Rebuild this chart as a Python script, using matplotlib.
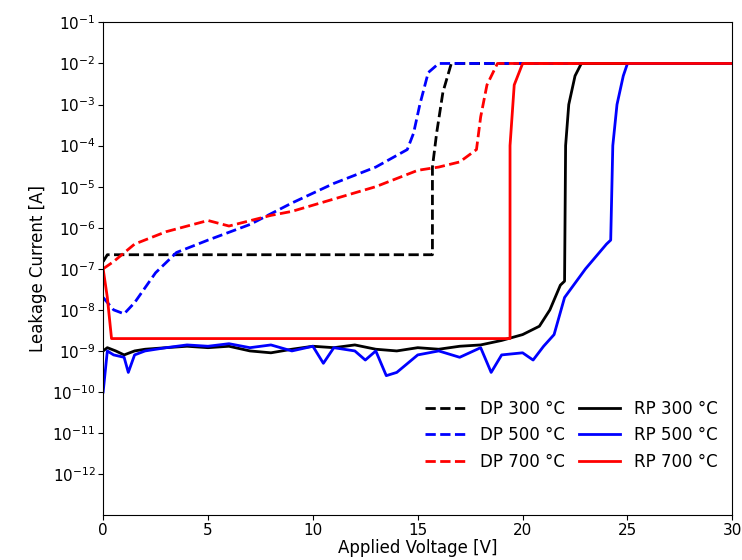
import matplotlib
matplotlib.use("Agg")
import matplotlib.pyplot as plt

dp300_v = [0, 0.2, 15.7, 15.7, 15.9, 16.2, 16.6, 30]
dp300_i = [1.5e-7, 2.2e-7, 2.2e-7, 3e-5, 2e-4, 2e-3, 1e-2, 1e-2]
dp500_v = [0, 0.5, 1, 1.5, 2.5, 3.5, 5, 7, 9, 11, 13, 14.5, 14.8, 15.1, 15.5, 16, 30]
dp500_i = [2e-8, 1e-8, 8e-9, 1.5e-8, 8e-8, 2.5e-7, 5e-7, 1.2e-6, 4e-6, 1.2e-5, 3e-5, 8e-5, 2e-4, 1e-3, 6e-3, 1e-2, 1e-2]
dp700_v = [0, 0.5, 1.5, 3, 5, 6, 8, 9, 11, 13, 15, 16, 17, 17.8, 18, 18.3, 18.8, 30]
dp700_i = [1e-7, 1.5e-7, 4e-7, 8e-7, 1.5e-6, 1.1e-6, 2e-6, 2.5e-6, 5e-6, 1e-5, 2.5e-5, 3e-5, 4e-5, 8e-5, 5e-4, 3e-3, 1e-2, 1e-2]
rp300_v = [0, 0.2, 0.6, 1, 1.5, 2, 3, 4, 5, 6, 7, 8, 9, 10, 11, 12, 13, 14, 15, 16, 17, 18, 19, 20, 20.8, 21.3, 21.8, 22, 22.05, 22.2, 22.5, 22.8, 30]
rp300_i = [1e-9, 1.2e-9, 1e-9, 8e-10, 1e-9, 1.1e-9, 1.2e-9, 1.3e-9, 1.2e-9, 1.3e-9, 1e-9, 9e-10, 1.1e-9, 1.3e-9, 1.2e-9, 1.4e-9, 1.1e-9, 1e-9, 1.2e-9, 1.1e-9, 1.3e-9, 1.4e-9, 1.8e-9, 2.5e-9, 4e-9, 1e-8, 4e-8, 5e-8, 1e-4, 1e-3, 5e-3, 1e-2, 1e-2]
rp500_v = [0, 0.2, 0.5, 1, 1.2, 1.5, 2, 3, 4, 5, 6, 7, 8, 9, 10, 10.5, 11, 12, 12.5, 13, 13.5, 14, 15, 16, 17, 18, 18.5, 19, 20, 20.5, 21, 21.5, 22, 23, 24, 24.2, 24.3, 24.5, 24.8, 25, 30]
rp500_i = [1e-10, 1e-9, 8e-10, 7e-10, 3e-10, 8e-10, 1e-9, 1.2e-9, 1.4e-9, 1.3e-9, 1.5e-9, 1.2e-9, 1.4e-9, 1e-9, 1.3e-9, 5e-10, 1.2e-9, 1e-9, 6e-10, 1e-9, 2.5e-10, 3e-10, 8e-10, 1e-9, 7e-10, 1.2e-9, 3e-10, 8e-10, 9e-10, 6e-10, 1.3e-9, 2.5e-9, 2e-8, 1e-7, 4e-7, 5e-7, 1e-4, 1e-3, 5e-3, 1e-2, 1e-2]
rp700_v = [0, 0.2, 0.4, 1, 5, 10, 15, 19.4, 19.4, 19.6, 20, 30]
rp700_i = [1e-7, 2e-8, 2e-9, 2e-9, 2e-9, 2e-9, 2e-9, 2e-9, 1e-4, 3e-3, 1e-2, 1e-2]

fig, ax = plt.subplots(figsize=(7.42, 5.6), dpi=100)
fig.subplots_adjust(left=0.139, right=0.987, top=0.96, bottom=0.08)
lw = 2
ax.plot(dp300_v, dp300_i, 'k--', lw=lw, label='DP 300 °C')
ax.plot(dp500_v, dp500_i, '--', color='#0000ff', lw=lw, label='DP 500 °C')
ax.plot(dp700_v, dp700_i, '--', color='#ff0000', lw=lw, label='DP 700 °C')
ax.plot(rp300_v, rp300_i, 'k-', lw=lw, label='RP 300 °C')
ax.plot(rp500_v, rp500_i, '-', color='#0000ff', lw=lw, label='RP 500 °C')
ax.plot(rp700_v, rp700_i, '-', color='#ff0000', lw=lw, label='RP 700 °C')
ax.set_yscale('log')
ax.set_xlim(0, 30)
ax.set_ylim(1e-13, 1e-1)
ax.set_xticks(range(0, 31, 5))
ax.set_yticks([10.0**k for k in range(-12, 0)])
ax.set_yticklabels([f'$10^{{{k}}}$' for k in range(-12, 0)])
ax.minorticks_off()
ax.tick_params(labelsize=11, direction='out', pad=2)
ax.set_xlabel('Applied Voltage [V]', fontsize=12, labelpad=1)
ax.set_ylabel('Leakage Current [A]', fontsize=12)
ax.legend(ncol=2, loc='lower right', bbox_to_anchor=(1.0, 0.06), frameon=False,
          fontsize=12, handlelength=2.5, columnspacing=0.8)
fig.savefig('out.png')
